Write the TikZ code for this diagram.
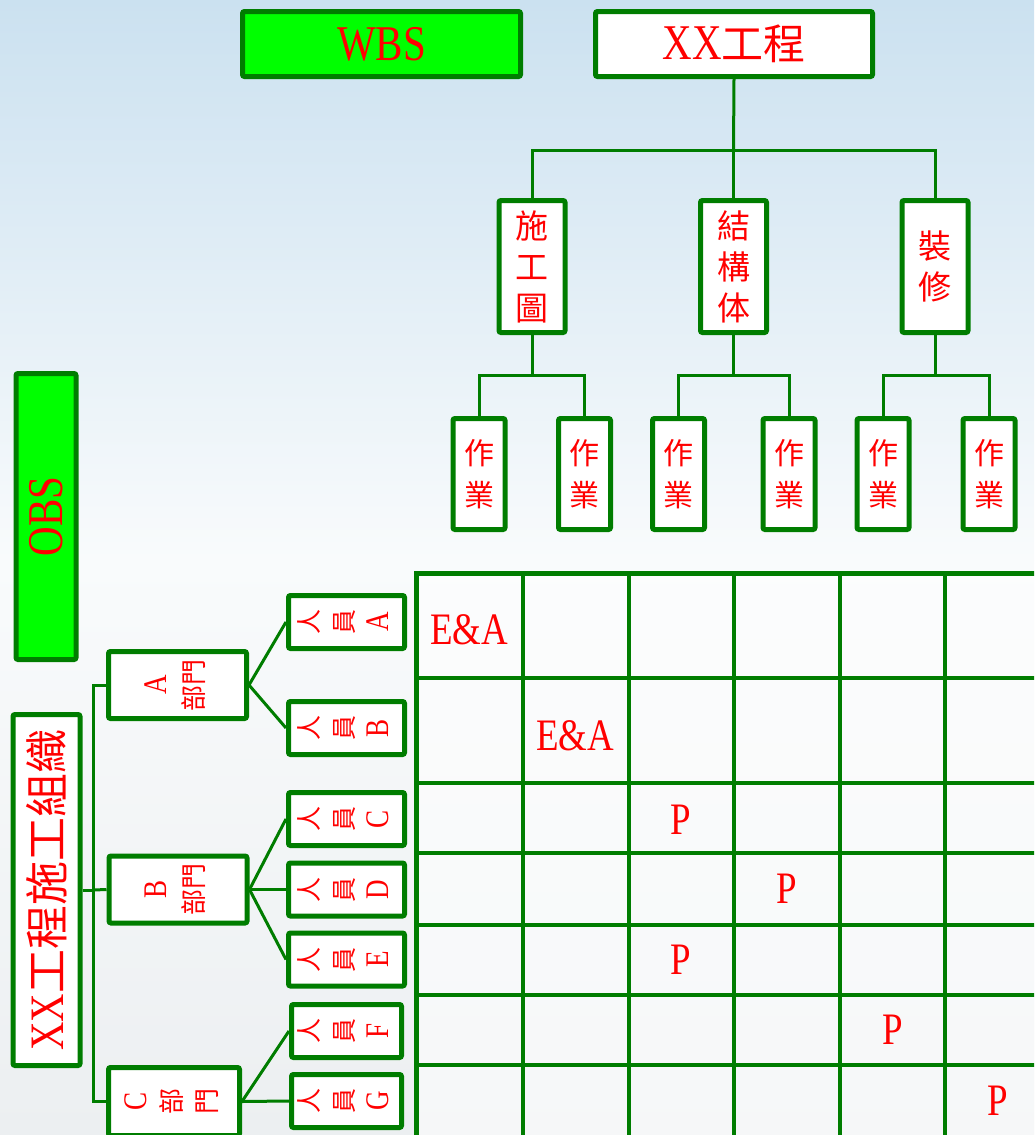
\documentclass[tikz,border=0pt]{standalone}
\usepackage{fontspec}
\usepackage{graphicx}
\usetikzlibrary{calc}
\setmainfont[FakeStretch=0.82]{Liberation Serif}
\newfontfamily\cjk{Noto Sans CJK TC}
\definecolor{dgreen}{RGB}{0,125,0}
\definecolor{lgreen}{RGB}{0,255,0}
\definecolor{txtred}{RGB}{255,0,0}
\definecolor{bgtop}{RGB}{203,225,240}
\definecolor{bgmid}{RGB}{226,240,248}
\definecolor{bglow}{RGB}{249,251,252}
\definecolor{bgbot}{RGB}{236,239,241}
\newcommand{\fs}[1]{\fontsize{#1}{#1}\selectfont}
\newcommand{\vtext}[3]{\rotatebox{90}{\fontsize{#1}{#2}\selectfont\begin{tabular}{@{}c@{}}#3\end{tabular}}}
\newcommand{\staffname}[1]{\vtext{25}{35}{{\cjk 人}\\{\cjk 員}\\{\fs{33}#1}}}

\begin{document}
\begin{tikzpicture}[x=1pt, y=-1pt,
		box/.style = {rectangle, draw=dgreen, fill=white, line width=5pt, rounded corners=2pt, inner sep=0pt, text=txtred},
		tag/.style = {box, fill=lgreen, font=\fs{50}},
		part/.style = {box, minimum width=66, minimum height=132, align=center, font={\cjk\fontsize{33}{41}\selectfont}},
		task/.style = {box, minimum width=52, minimum height=111, align=center, font={\cjk\fontsize{30}{42}\selectfont}},
		dept/.style = {box, minimum width=138, minimum height=67},
		staff/.style = {box, minimum width=116, minimum height=53},
		link/.style = {draw=dgreen, line width=3pt},
		gridline/.style = {draw=dgreen, line width=4pt},
		entry/.style = {text=txtred, font=\fs{45}}
		]
		
		\useasboundingbox (0,0) rectangle (1034,1135);
		\clip (0,0) rectangle (1034,1135);
		
		% === === Background === ===
		\shade[top color=bgtop, middle color=bgmid, bottom color=bglow] (0,0) rectangle (1034,560);
		\shade[top color=bglow, bottom color=bgbot] (0,560) rectangle (1034,1135);
		
		
		% === === WBS nodes === ===
		\node[tag, minimum width=278, minimum height=65]	(wbs)	at	(381.5, 44)	{WBS};
		\node[box, minimum width=277, minimum height=65]	(proj)	at	(734, 44)	{{\fs{50}XX}{\cjk\fs{42}工程}};
		
		\node[part]	(draw)	at	(532, 266.5)	{施\\工\\圖};
		\node[part]	(frame)	at	(733.5, 266.5)	{結\\構\\体};
		\node[part]	(finish)	at	(935, 266.5)	{裝\\修};
		
		\node[task]	(t1)	at	(479, 474)	{作\\業};
		\node[task]	(t2)	at	(584.5, 474)	{作\\業};
		\node[task]	(t3)	at	(678.5, 474)	{作\\業};
		\node[task]	(t4)	at	(789, 474)	{作\\業};
		\node[task]	(t5)	at	(883, 474)	{作\\業};
		\node[task]	(t6)	at	(989, 474)	{作\\業};
		
		
		% === === OBS nodes === ===
		\node[tag, minimum width=60, minimum height=286]	(obs)	at	(46, 516.5)	{\rotatebox{90}{OBS}};
		\node[box, minimum width=67, minimum height=351]	(org)	at	(46.5, 890)	{\rotatebox{90}{{\fs{48}XX}{\cjk\fs{44}工程施工組織}}};
		
		\node[dept]	(depA)	at	(177.5, 685)	{\vtext{26}{37}{{\fs{33}A}\\{\cjk 部門}}};
		\node[dept]	(depB)	at	(178, 889.5)	{\vtext{26}{37}{{\fs{33}B}\\{\cjk 部門}}};
		\node[dept, minimum width=131, minimum height=68]	(depC)	at	(174, 1101.5)	{\vtext{26}{35}{{\fs{33}C}\\{\cjk 部}\\{\cjk 門}}};
		
		\node[staff]	(pA)	at	(346.5, 622)	{\staffname{A}};
		\node[staff]	(pB)	at	(346.5, 728)	{\staffname{B}};
		\node[staff]	(pC)	at	(346.5, 819)	{\staffname{C}};
		\node[staff]	(pD)	at	(346.5, 889.5)	{\staffname{D}};
		\node[staff]	(pE)	at	(346.5, 959.5)	{\staffname{E}};
		\node[staff, minimum width=110]	(pF)	at	(346.5, 1031)	{\staffname{F}};
		\node[staff, minimum width=110]	(pG)	at	(346.5, 1101)	{\staffname{G}};
		
		
		% === === WBS lines === ===
		\coordinate	(wbar)	at	(733.5, 150);
		\coordinate	(bar1)	at	(532, 375);
		\coordinate	(bar2)	at	(733.5, 375);
		\coordinate	(bar3)	at	(935, 375);
		
		\draw[link]	(proj.south)	--	(wbar);
		\draw[link]	(wbar)	-|	(draw.north);
		\draw[link]	(wbar)	--	(frame.north);
		\draw[link]	(wbar)	-|	(finish.north);
		
		\draw[link]	(draw.south)	--	(bar1);
		\draw[link]	(bar1)	-|	(t1.north);
		\draw[link]	(bar1)	-|	(t2.north);
		\draw[link]	(frame.south)	--	(bar2);
		\draw[link]	(bar2)	-|	(t3.north);
		\draw[link]	(bar2)	-|	(t4.north);
		\draw[link]	(finish.south)	--	(bar3);
		\draw[link]	(bar3)	-|	(t5.north);
		\draw[link]	(bar3)	-|	(t6.north);
		
		
		% === === OBS lines === ===
		\coordinate	(obar)	at	(93, 890);
		
		\draw[link]	(org.east)	--	(obar);
		\draw[link]	(obar)	|-	(depA.west);
		\draw[link]	(obar)	--	(depB.west);
		\draw[link]	(obar)	|-	(depC.west);
		
		\draw[link]	(depA.east)	--	(pA.west);
		\draw[link]	(depA.east)	--	(pB.west);
		\draw[link]	(depB.east)	--	(pC.west);
		\draw[link]	(depB.east)	--	(pD.west);
		\draw[link]	(depB.east)	--	(pE.west);
		\draw[link]	(depC.east)	--	(pF.west);
		\draw[link]	(depC.east)	--	(pG.west);
		
		
		% === === Matrix === ===
		\fill[white, opacity=0.55]	(416, 573) rectangle (1051, 1140);
		\foreach \x in {522.5, 628.5, 734, 839.5, 945}
			\draw[gridline]	(\x, 573) -- (\x, 1140);
		\foreach \y in {678, 783, 853, 925, 995, 1065}
			\draw[gridline]	(416, \y) -- (1051, \y);
		\draw[gridline, line width=5pt]	(416, 1140) -- (416, 573) -- (1051, 573) -- (1051, 1140);
		
		\node[entry]	(eA)	at	(469, 630)	{E\&A};
		\node[entry]	(eB)	at	(575, 736)	{E\&A};
		\node[entry]	(eC)	at	(681, 820)	{P};
		\node[entry]	(eD)	at	(787, 889)	{P};
		\node[entry]	(eE)	at	(681, 960)	{P};
		\node[entry]	(eF)	at	(893, 1030)	{P};
		\node[entry]	(eG)	at	(998, 1101)	{P};
		
		
	\end{tikzpicture}
\end{document}
